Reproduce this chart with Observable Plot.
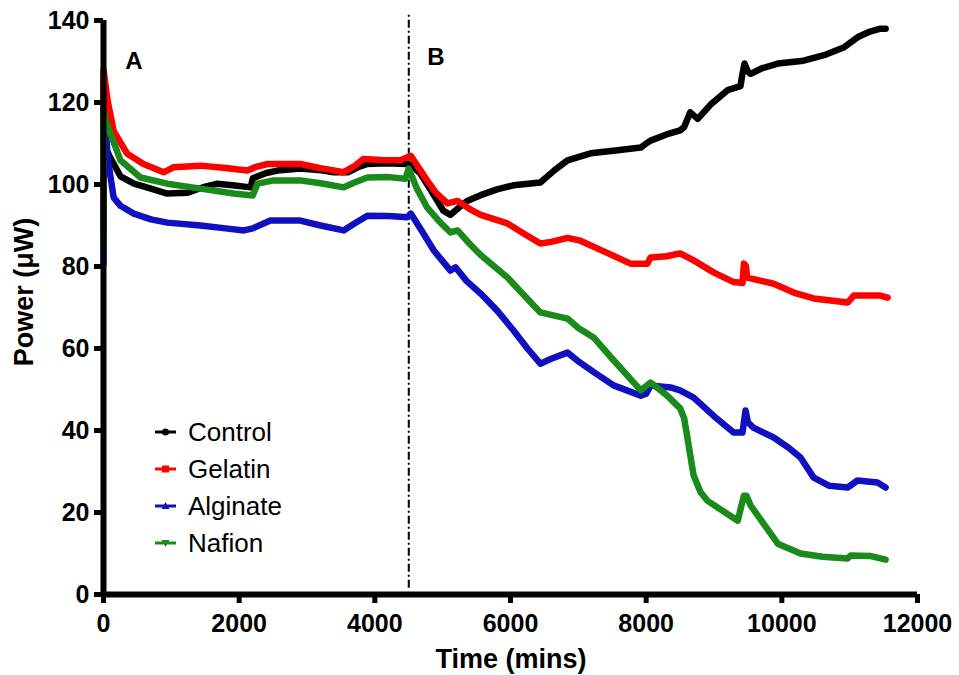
<!DOCTYPE html>
<html><head><meta charset="utf-8">
<script src="https://cdn.jsdelivr.net/npm/d3@7"></script>
<script src="https://cdn.jsdelivr.net/npm/@observablehq/plot@0.6"></script>
<style>body{margin:0;background:#fff} svg{display:block}</style>
</head><body><div id="chart"></div>
<script>
const seriesNames = ["Control", "Gelatin", "Alginate", "Nafion"];
const seriesColors = ["#000000", "#ff0000", "#1010c0", "#1a8a1a"];

// [time (mins), power (µW)]
const control = [[0,88],[0,108],[30,109],[100,106.5],[250,102],[450,100.2],[700,99],[940,97.8],[1240,98],[1500,99.5],[1680,100.2],[1900,99.8],[2170,99.3],[2200,101.5],[2400,102.8],[2565,103.4],[2900,103.9],[3200,103.5],[3390,103],[3600,103],[3750,104.2],[3890,105],[4150,105.2],[4480,105],[4530,104.8],[4670,102.7],[4850,98],[5010,93.6],[5115,92.6],[5250,94.5],[5360,96],[5560,97.4],[5800,98.8],[6045,99.8],[6440,100.5],[6650,103.5],[6840,105.9],[7180,107.6],[7550,108.3],[7920,109],[8000,110],[8065,110.7],[8300,112.2],[8500,113.2],[8560,114],[8650,117.6],[8760,116],[8950,119.5],[9200,123],[9390,124],[9420,127],[9450,129.5],[9500,127.5],[9540,127],[9700,128.3],[9940,129.5],[10320,130.2],[10650,131.7],[10910,133.4],[11115,135.9],[11300,137.3],[11455,138],[11530,138]];
const gelatin = [[0,96],[0,128],[60,120.5],[150,113],[350,107.5],[590,105],[885,103],[950,103.5],[1030,104.2],[1430,104.6],[1800,104],[2120,103.4],[2250,104.3],[2420,105],[2900,105],[3200,104],[3540,103],[3700,104.5],[3830,106.2],[4100,106],[4380,105.9],[4530,107],[4650,104],[4770,101],[4900,98],[5070,95.4],[5220,96],[5400,94],[5560,92.6],[5955,90.5],[6200,88],[6440,85.6],[6600,86],[6840,87],[7030,86.3],[7400,83.5],[7770,80.7],[8020,80.7],[8065,82.2],[8300,82.5],[8500,83.2],[8700,81.5],[9000,78.5],[9290,76.2],[9420,76],[9440,80.7],[9470,80.2],[9490,77.3],[9880,75.8],[10200,73.5],[10470,72.2],[10970,71.2],[11060,72.9],[11300,72.9],[11450,72.9],[11560,72.4]];
const alginate = [[0,80.7],[0,126],[30,115],[60,106.6],[150,96.8],[250,94.8],[445,92.9],[700,91.5],[940,90.7],[1430,90],[1800,89.3],[2070,88.8],[2200,89.3],[2460,91.2],[2900,91.2],[3200,90],[3540,88.8],[3700,90.5],[3890,92.4],[4200,92.3],[4480,92],[4530,92.9],[4700,88.5],[4870,83.9],[5115,79],[5190,79.8],[5350,76.5],[5560,73.4],[5800,69.3],[6045,64.4],[6250,60],[6440,56.3],[6600,57.5],[6840,59],[6990,57],[7250,54],[7520,51],[7920,48.5],[8000,49],[8065,51],[8360,50.5],[8500,49.8],[8700,48],[9000,43.5],[9290,39.5],[9420,39.5],[9465,44.9],[9500,42],[9580,40.7],[9880,38.3],[10100,35.8],[10275,33.4],[10470,28.5],[10700,26.5],[10970,26.1],[11115,27.8],[11410,27.3],[11530,26.1]];
const nafion = [[0,84.6],[0,118],[40,115],[103,112.4],[250,105.9],[545,101.7],[940,100.2],[1430,99],[1920,97.8],[2200,97.3],[2270,100.2],[2510,101],[2900,101],[3200,100.3],[3540,99.3],[3700,100.5],[3890,101.7],[4200,101.8],[4450,101.4],[4500,103.9],[4620,99],[4770,94.4],[4950,91],[5115,88.3],[5220,88.8],[5400,85.5],[5560,82.8],[5955,77.3],[6200,73],[6440,68.8],[6840,67.3],[7000,65],[7225,62.7],[7500,57.5],[7920,49.8],[8065,51.7],[8310,48.5],[8500,45.4],[8560,43],[8620,37],[8700,29],[8800,25],[8900,22.9],[9350,18],[9440,24.1],[9480,24.1],[9540,21.7],[9730,17.3],[9940,12.4],[10275,10],[10600,9.2],[10970,8.8],[11015,9.5],[11300,9.4],[11530,8.5]];

const xTicks = [0, 2000, 4000, 6000, 8000, 10000, 12000];
const yTicks = [0, 20, 40, 60, 80, 100, 120, 140];
const phaseLabels = [{label: "A", t: 450, p: 130}, {label: "B", t: 4900, p: 131}];
const phaseBoundary = [4500];
const xTitle = "Time (mins)";
const yTitle = "Power (μW)";

const drawOrder = [["Control", control], ["Alginate", alginate], ["Gelatin", gelatin], ["Nafion", nafion]];
const rows = [];
drawOrder.forEach(([name, s]) => s.forEach(([t, p]) => rows.push({series: name, t, p})));

const font = "'Liberation Sans', Arial, Helvetica, sans-serif";
const plot = Plot.plot({
  width: 959, height: 675,
  marginLeft: 103, marginRight: 42, marginTop: 20, marginBottom: 81,
  style: {fontFamily: font},
  x: {domain: [0, 12000]},
  y: {domain: [0, 140]},
  color: {domain: seriesNames, range: seriesColors},
  marks: [
    Plot.ruleX(phaseBoundary, {y1: 1.5, y2: 142, stroke: "#000", strokeWidth: 2, strokeDasharray: "8,3,2,3"}),
    Plot.line(rows, {x: "t", y: "p", z: "series", stroke: "series", strokeWidth: 6.5, strokeLinejoin: "round", strokeLinecap: "round"}),
    // axis lines
    Plot.ruleX([0], {y1: 0, y2: 140, stroke: "#000", strokeWidth: 6}),
    Plot.ruleY([0], {x1: 0, x2: 12000, stroke: "#000", strokeWidth: 6}),
    // tick marks
    Plot.ruleX(xTicks, {y1: 0, y2: 0, insetBottom: -9, stroke: "#000", strokeWidth: 5}),
    Plot.ruleY(yTicks, {x1: 0, x2: 0, insetLeft: -9, stroke: "#000", strokeWidth: 5}),
    Plot.axisX({ticks: xTicks, tickSize: 0, tickPadding: 20, tickFormat: d => String(d), fontSize: 25, fontWeight: "bold", label: null}),
    Plot.axisY({ticks: yTicks, tickSize: 0, tickPadding: 14, tickFormat: d => String(d), fontSize: 25, fontWeight: "bold", label: null}),
    Plot.text(phaseLabels, {x: "t", y: "p", text: "label", fontSize: 24, fontWeight: "bold", fill: "#000"})
  ]
});

const svg = d3.select(plot);
svg.append("text").attr("x", 511).attr("y", 668).attr("text-anchor", "middle")
  .attr("font-size", 27).attr("font-weight", "bold").attr("fill", "#000").text(xTitle);
svg.append("text").attr("transform", "translate(33,292) rotate(-90)").attr("text-anchor", "middle")
  .attr("font-size", 27).attr("font-weight", "bold").attr("fill", "#000").text(yTitle);

// legend
const legendShapes = ["circle", "square", "up", "down"];
const lg = svg.append("g").attr("font-size", 26).attr("fill", "#000").attr("text-anchor", "start");
seriesNames.forEach((name, i) => {
  const cy = 432 + i * 37;
  const col = seriesColors[i];
  lg.append("line").attr("x1", 155).attr("x2", 176).attr("y1", cy).attr("y2", cy).attr("stroke", col).attr("stroke-width", 3);
  const s = legendShapes[i];
  if (s === "circle") lg.append("circle").attr("cx", 165.5).attr("cy", cy).attr("r", 3.5).attr("fill", col);
  else if (s === "square") lg.append("rect").attr("x", 162).attr("y", cy - 3.5).attr("width", 7).attr("height", 7).attr("fill", col);
  else if (s === "up") lg.append("path").attr("d", `M165.5,${cy-4}L169.5,${cy+3}L161.5,${cy+3}Z`).attr("fill", col);
  else lg.append("path").attr("d", `M165.5,${cy+4}L169.5,${cy-3}L161.5,${cy-3}Z`).attr("fill", col);
  lg.append("text").attr("x", 188).attr("y", cy + 9).attr("text-anchor", "start").attr("fill", "#000").text(name);
});

document.getElementById("chart").appendChild(plot);
</script>
</body></html>
